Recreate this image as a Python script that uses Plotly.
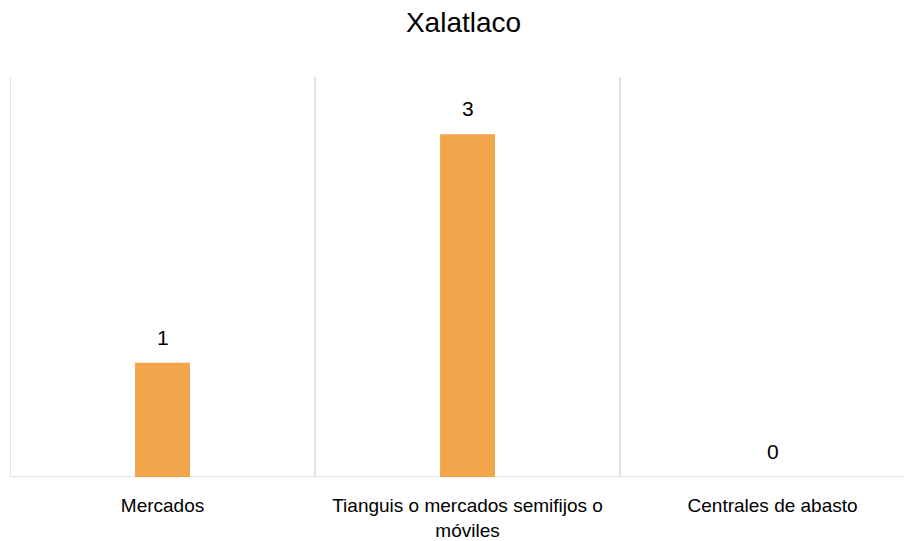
import plotly.graph_objects as go

categories = ["Mercados", "Tianguis o mercados semifijos o<br>móviles", "Centrales de abasto"]
values = [1, 3, 0]
value_labels = ["1", "3", "0"]
positions = [0, 1, 2]

FONT = "Liberation Sans, Arial"

fig = go.Figure()
fig.add_trace(go.Bar(
    x=positions, y=values, width=0.18,
    marker=dict(color="#F2A54A", line=dict(width=0)),
))

for xv, yv, lab in zip(positions, values, value_labels):
    fig.add_annotation(x=xv, y=yv, xref="x", yref="y", text=lab, showarrow=False,
                       yanchor="bottom", yshift=12,
                       font=dict(family=FONT, size=21, color="#000000"))

for xb in [-0.5, 0.5, 1.5, 2.5]:
    fig.add_shape(type="line", xref="x", yref="paper", x0=xb, x1=xb, y0=0, y1=1,
                  line=dict(color="#d9d9d9", width=1.5), layer="below")
fig.add_shape(type="line", xref="paper", yref="y", x0=0, x1=1, y0=0, y1=0,
              line=dict(color="#d9d9d9", width=1.5), layer="below")

fig.update_layout(
    width=911, height=541,
    margin=dict(l=2, r=0, t=69, b=72),
    paper_bgcolor="white", plot_bgcolor="white",
    title=dict(text="Xalatlaco", x=0.5, xanchor="center", y=0.974, yanchor="middle",
               font=dict(family=FONT, size=28, color="#000000")),
    xaxis=dict(tickmode="array", tickvals=positions, ticktext=categories,
               range=[-0.5, 2.48], showgrid=False, zeroline=False, showline=False,
               ticks="", ticklabelstandoff=15,
               tickfont=dict(family=FONT, size=19, color="#000000")),
    yaxis=dict(range=[0, 3.5], visible=False, showgrid=False, zeroline=False),
    showlegend=False,
)

fig.write_html("out.html")
